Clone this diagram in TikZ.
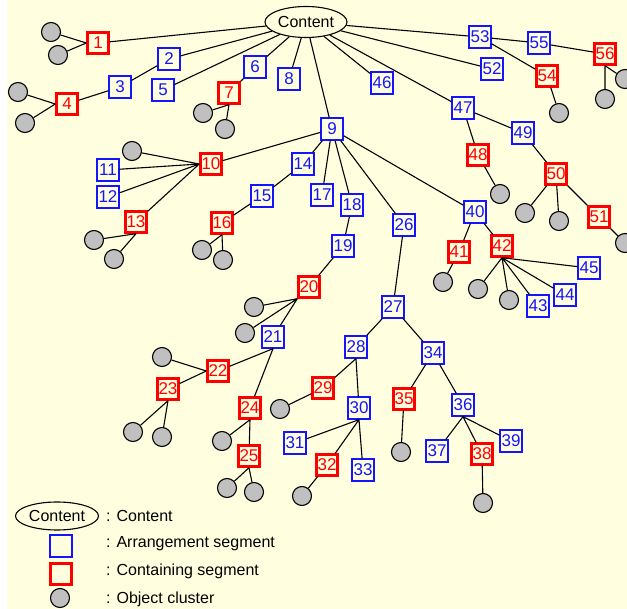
\documentclass[tikz,border=0pt]{standalone}
\usepackage{fontspec}
\setmainfont{Liberation Sans}
\usetikzlibrary{shapes.geometric}
\definecolor{bgyellow}{RGB}{255,255,224}
\definecolor{segblue}{RGB}{20,20,255}
\definecolor{segred}{RGB}{255,0,0}
\definecolor{clustergray}{RGB}{192,192,192}
\begin{document}
\begin{tikzpicture}[x=1pt,y=-1pt]
	\tikzset{arr/.style={draw=segblue, text=segblue, line width=1.3pt, minimum size=22pt, inner sep=0pt, font=\fontsize{17}{20}\selectfont},
		cont/.style={draw=segred, text=segred, line width=2.4pt, minimum size=21pt, inner sep=0pt, font=\fontsize{17}{20}\selectfont},
		clus/.style={circle, draw, fill=clustergray, line width=1.1pt, minimum size=19pt, inner sep=0pt},
		rootnode/.style={ellipse, draw, line width=1.1pt, minimum width=82pt, minimum height=31pt, inner sep=0pt},
		link/.style={line width=1.1pt},
		every node/.style={font=\fontsize{16}{19}\selectfont}}
	\useasboundingbox (0,0) rectangle (627,609);
	\clip (0,0) rectangle (627,609);
	\fill[bgyellow] (7,0) rectangle (627,609);
	\node[rootnode] (content) at (306,22) {Content};
	\node[cont] (n1) at (98,43) {1};
	\node[arr] (n2) at (169,59) {2};
	\node[arr] (n3) at (120,87) {3};
	\node[cont] (n4) at (67,104) {4};
	\node[arr] (n5) at (163,90) {5};
	\node[arr] (n6) at (255,67) {6};
	\node[cont] (n7) at (229,93) {7};
	\node[arr] (n8) at (289,79) {8};
	\node[arr] (n9) at (332,129) {9};
	\node[cont] (n10) at (211,164) {10};
	\node[arr] (n11) at (108,170) {11};
	\node[arr] (n12) at (108,197) {12};
	\node[cont] (n13) at (136,222) {13};
	\node[arr] (n14) at (303,164) {14};
	\node[arr] (n15) at (262,196) {15};
	\node[cont] (n16) at (222,223) {16};
	\node[arr] (n17) at (322,195) {17};
	\node[arr] (n18) at (352,205) {18};
	\node[arr] (n19) at (343,246) {19};
	\node[cont] (n20) at (309,287) {20};
	\node[arr] (n21) at (273,337) {21};
	\node[cont] (n22) at (218,371) {22};
	\node[cont] (n23) at (168,389) {23};
	\node[cont] (n24) at (250,408) {24};
	\node[cont] (n25) at (249,456) {25};
	\node[arr] (n26) at (404,225) {26};
	\node[arr] (n27) at (393,307) {27};
	\node[arr] (n28) at (356,347) {28};
	\node[cont] (n29) at (323,388) {29};
	\node[arr] (n30) at (359,408) {30};
	\node[arr] (n31) at (295,443) {31};
	\node[cont] (n32) at (327,465) {32};
	\node[arr] (n33) at (363,470) {33};
	\node[arr] (n34) at (433,353) {34};
	\node[cont] (n35) at (404,399) {35};
	\node[arr] (n36) at (463,405) {36};
	\node[arr] (n37) at (437,451) {37};
	\node[cont] (n38) at (482,454) {38};
	\node[arr] (n39) at (511,441) {39};
	\node[arr] (n40) at (475,212) {40};
	\node[cont] (n41) at (459,252) {41};
	\node[cont] (n42) at (502,246) {42};
	\node[arr] (n43) at (538,306) {43};
	\node[arr] (n44) at (565,295) {44};
	\node[arr] (n45) at (589,268) {45};
	\node[arr] (n46) at (382,83) {46};
	\node[arr] (n47) at (463,108) {47};
	\node[cont] (n48) at (478,155) {48};
	\node[arr] (n49) at (523,133) {49};
	\node[cont] (n50) at (556,174) {50};
	\node[cont] (n51) at (599,217) {51};
	\node[arr] (n52) at (492,69) {52};
	\node[arr] (n53) at (480,37) {53};
	\node[cont] (n54) at (547,76) {54};
	\node[arr] (n55) at (539,43) {55};
	\node[cont] (n56) at (605,54) {56};
	\node[clus] (c1a) at (51,32) {};
	\node[clus] (c1b) at (58,55) {};
	\node[clus] (c4a) at (18,92) {};
	\node[clus] (c4b) at (25,123) {};
	\node[clus] (c7a) at (203,113) {};
	\node[clus] (c7b) at (225,129) {};
	\node[clus] (c10) at (132,151) {};
	\node[clus] (c13a) at (94,240) {};
	\node[clus] (c13b) at (114,259) {};
	\node[clus] (c16a) at (202,250) {};
	\node[clus] (c16b) at (223,260) {};
	\node[clus] (c20a) at (254,307) {};
	\node[clus] (c20b) at (245,333) {};
	\node[clus] (c22) at (162,357) {};
	\node[clus] (c23a) at (133,432) {};
	\node[clus] (c23b) at (162,437) {};
	\node[clus] (c24) at (222,441) {};
	\node[clus] (c25a) at (227,488) {};
	\node[clus] (c25b) at (254,492) {};
	\node[clus] (c29) at (280,409) {};
	\node[clus] (c32) at (302,496) {};
	\node[clus] (c35) at (401,452) {};
	\node[clus] (c38) at (483,503) {};
	\node[clus] (c41) at (443,282) {};
	\node[clus] (c42a) at (478,289) {};
	\node[clus] (c42b) at (509,300) {};
	\node[clus] (c48) at (500,194) {};
	\node[clus] (c50a) at (525,213) {};
	\node[clus] (c50b) at (559,221) {};
	\node[clus] (c51) at (625,243) {};
	\node[clus] (c54) at (559,113) {};
	\node[clus] (c56a) at (605,99) {};
	\node[clus] (c56b) at (625,79) {};
	\draw[link] (content) -- (n1) (content) -- (n2) (content) -- (n5) (content) -- (n6) (content) -- (n8)
		(content) -- (n9) (content) -- (n46) (content) -- (n47) (content) -- (n52) (content) -- (n53);
	\draw[link] (n1.west) -- (c1a) (n1.west) -- (c1b);
	\draw[link] (n2) -- (n3);
	\draw[link] (n3) -- (n4);
	\draw[link] (n4.west) -- (c4a) (n4.west) -- (c4b);
	\draw[link] (n6) -- (n7);
	\draw[link] (n7.south) -- (c7a) (n7.south) -- (c7b);
	\draw[link] (n9) -- (n10) (n9) -- (n14) (n9) -- (n17) (n9) -- (n18) (n9) -- (n26) (n9) -- (n40);
	\draw[link] (n10.west) -- (c10) (n10.west) -- (n11) (n10.west) -- (n12) (n10.west) -- (n13);
	\draw[link] (n13.south) -- (c13a) (n13.south) -- (c13b);
	\draw[link] (n14) -- (n15);
	\draw[link] (n15) -- (n16);
	\draw[link] (n16.south) -- (c16a) (n16.south) -- (c16b);
	\draw[link] (n18) -- (n19);
	\draw[link] (n19) -- (n20);
	\draw[link] (n20.south west) -- (c20a) (n20.south west) -- (c20b) (n20.south west) -- (n21);
	\draw[link] (n21.south) -- (n22) (n21.south) -- (n24);
	\draw[link] (n22.west) -- (c22) (n22.west) -- (n23);
	\draw[link] (n23.south) -- (c23a) (n23.south) -- (c23b);
	\draw[link] (n24.south) -- (c24) (n24.south) -- (n25);
	\draw[link] (n25.south) -- (c25a) (n25.south) -- (c25b);
	\draw[link] (n26) -- (n27);
	\draw[link] (n27) -- (n28) (n27) -- (n34);
	\draw[link] (n28.south) -- (n29) (n28.south) -- (n30);
	\draw[link] (n29) -- (c29);
	\draw[link] (n30.south) -- (n31) (n30.south) -- (n32) (n30.south) -- (n33);
	\draw[link] (n32) -- (c32);
	\draw[link] (n34) -- (n35) (n34) -- (n36);
	\draw[link] (n35) -- (c35);
	\draw[link] (n36.south) -- (n37) (n36.south) -- (n38) (n36.south) -- (n39);
	\draw[link] (n38) -- (c38);
	\draw[link] (n40) -- (n41) (n40) -- (n42);
	\draw[link] (n41) -- (c41);
	\draw[link] (n42.south) -- (c42a) (n42.south) -- (c42b) (n42.south) -- (n43) (n42.south) -- (n44) (n42.south) -- (n45);
	\draw[link] (n47) -- (n48) (n47) -- (n49);
	\draw[link] (n48) -- (c48);
	\draw[link] (n49) -- (n50);
	\draw[link] (n50) -- (c50a) (n50) -- (c50b) (n50) -- (n51);
	\draw[link] (n51) -- (c51);
	\draw[link] (n53) -- (n54) (n53) -- (n55);
	\draw[link] (n54) -- (c54);
	\draw[link] (n55) -- (n56);
	\draw[link] (n56.south) -- (c56a) (n56.south) -- (c56b);
	\node[rootnode, minimum width=83pt, minimum height=28pt] (lgcontent) at (57,516) {Content};
	\node[arr] (lgarr) at (61,546) {};
	\node[cont] (lgcont) at (61,574) {};
	\node[clus] (lgclus) at (60,598) {};
	\node[anchor=west, inner sep=0pt] (txcontent) at (106,516) {: Content};
	\node[anchor=west, inner sep=0pt] (txarr) at (106,544) {: Arrangement segment};
	\node[anchor=west, inner sep=0pt] (txcont) at (106,571) {: Containing segment};
	\node[anchor=west, inner sep=0pt] (txclus) at (106,599) {: Object cluster};
\end{tikzpicture}
\end{document}
